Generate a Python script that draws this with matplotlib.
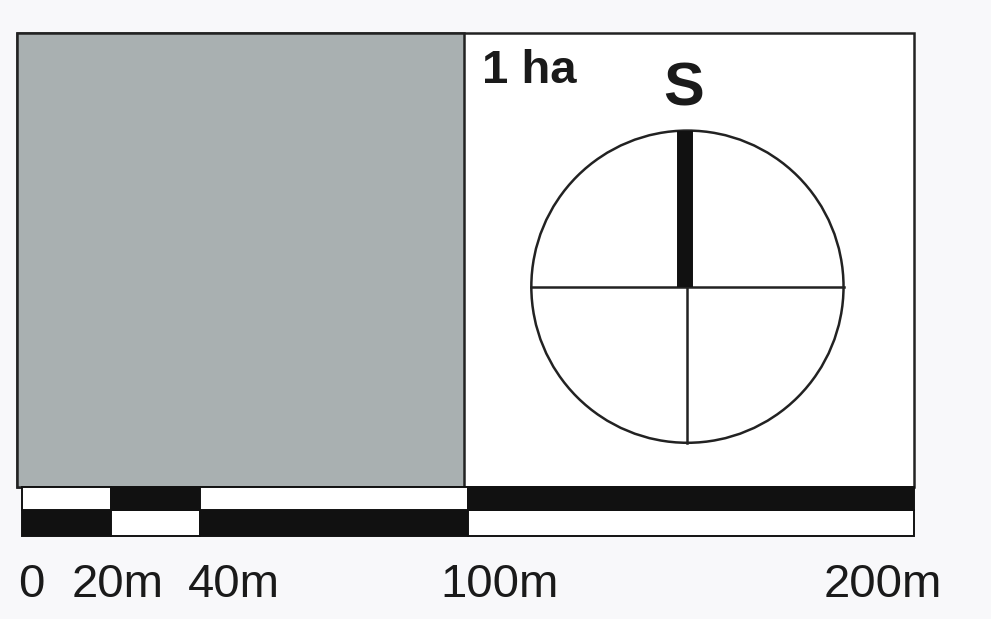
import matplotlib.pyplot as plt
from matplotlib.patches import Rectangle, Circle

plt.rcParams['font.family'] = ['Liberation Sans', 'DejaVu Sans']

# scale bar (metres)
seg_edges = [0, 20, 40, 100, 200]
top_row = ['w', 'k', 'w', 'k']
bottom_row = ['k', 'w', 'k', 'w']
row_h = [5.8, 5.2]           # bottom row, top row
tick_labels = ['0', '20m', '40m', '100m', '200m']
label_x = [2.0, 21.5, 47.5, 107.0, 193.0]

# 1 ha square and frame
square_x = [-1.2, 99.0]
frame_top = 112.8
frame_right = 200.0

# sample circle
cx, cy, r = 149.2, 55.9, 35.0

px_per_m = 4.46
fig = plt.figure(figsize=(9.91, 6.19), dpi=100, facecolor='#f8f8fa')
ax = fig.add_axes([0, 0, 1, 1])
x0 = -22 / px_per_m
y0 = -83 / px_per_m
ax.set_xlim(x0, x0 + 991 / px_per_m)
ax.set_ylim(y0, y0 + 619 / px_per_m)
ax.set_facecolor('#f8f8fa')
ax.axis('off')

bar_top = row_h[0] + row_h[1]

# frame and grey square
ax.add_patch(Rectangle((square_x[0], bar_top), frame_right - square_x[0], frame_top - bar_top,
                       facecolor='white', edgecolor='#222222', lw=1.8))
ax.add_patch(Rectangle((square_x[0], bar_top), square_x[1] - square_x[0], frame_top - bar_top,
                       facecolor='#a9b0b1', edgecolor='#222222', lw=1.8))

# scale bar
for i in range(len(seg_edges) - 1):
    w = seg_edges[i + 1] - seg_edges[i]
    ax.add_patch(Rectangle((seg_edges[i], 0), w, row_h[0],
                           facecolor='#111111' if bottom_row[i] == 'k' else 'white',
                           edgecolor='#111111', lw=1.4))
    ax.add_patch(Rectangle((seg_edges[i], row_h[0]), w, row_h[1],
                           facecolor='#111111' if top_row[i] == 'k' else 'white',
                           edgecolor='#111111', lw=1.4))

for lx, t in zip(label_x, tick_labels):
    ax.text(lx, -13.6, t, ha='center', va='baseline', fontsize=34, color='#1a1a1a')

# circle with cross
ax.add_patch(Circle((cx, cy), r, facecolor='none', edgecolor='#222222', lw=1.8))
ax.plot([cx - r, cx + r], [cy, cy], color='#222222', lw=1.8)
ax.plot([cx, cx], [cy - r, cy + r], color='#222222', lw=1.8)
ax.plot([cx - 0.6, cx - 0.6], [cy, cy + r], color='#111111', lw=11.5, solid_capstyle='butt')

ax.text(103.1, 101.6, '1 ha', ha='left', va='baseline', fontsize=34, fontweight='bold', color='#1a1a1a')
ax.text(cx - 0.8, 96.6, 'S', ha='center', va='baseline', fontsize=44, fontweight='bold', color='#1a1a1a')

fig.savefig('out.png', dpi=100, facecolor=fig.get_facecolor())
